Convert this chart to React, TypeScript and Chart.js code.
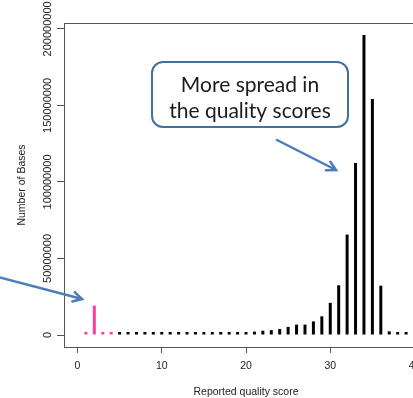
import { useEffect, useRef } from 'react';
import { Chart, registerables } from 'chart.js';

Chart.register(...registerables);

// ---- data ----
const QUALITY_SCORES = [
  1, 2, 3, 4, 5, 6, 7, 8, 9, 10,
  11, 12, 13, 14, 15, 16, 17, 18, 19, 20,
  21, 22, 23, 24, 25, 26, 27, 28, 29, 30,
  31, 32, 33, 34, 35, 36, 37, 38, 39, 40,
];
const BASE_COUNTS = [
  300000, 19200000, 300000, 300000, 400000, 400000, 500000, 500000, 600000, 600000,
  700000, 700000, 800000, 900000, 1000000, 1100000, 1200000, 1400000, 1600000, 1800000,
  2200000, 2800000, 3200000, 3900000, 5300000, 6800000, 6800000, 8900000, 12200000, 21000000,
  32500000, 65600000, 112400000, 196000000, 154200000, 32200000, 2400000, 800000, 600000, 500000,
];
const LOW_QUALITY_MAX = 4;
const X_TICKS = [0, 10, 20, 30, 40];
const Y_TICKS = [0, 50000000, 100000000, 150000000, 200000000];
const X_MIN = -1.6;
const X_MAX = 41.6;
const Y_MIN = -7840000;
const Y_MAX = 203840000;
const X_TITLE = 'Reported quality score';
const Y_TITLE = 'Number of Bases';
const CALLOUT_LINES = ['More spread in', 'the quality scores'];

const PINK = '#FF3D9E';
const BLACK = '#000000';
const AXIS_COLOR = '#555555';
const TEXT_COLOR = '#222222';
const FONT = '"Liberation Sans", Arial, sans-serif';

function arrow(ctx: CanvasRenderingContext2D, x1: number, y1: number, x2: number, y2: number) {
  const ang = Math.atan2(y2 - y1, x2 - x1);
  const head = 10;
  const spread = 0.5;
  ctx.beginPath();
  ctx.moveTo(x1, y1);
  ctx.lineTo(x2, y2);
  ctx.stroke();
  ctx.beginPath();
  ctx.moveTo(x2 - head * Math.cos(ang - spread), y2 - head * Math.sin(ang - spread));
  ctx.lineTo(x2, y2);
  ctx.lineTo(x2 - head * Math.cos(ang + spread), y2 - head * Math.sin(ang + spread));
  ctx.stroke();
}

const decorPlugin = {
  id: 'decor',
  afterDraw(chart: any) {
    const { ctx, chartArea } = chart;
    const yScale = chart.scales.y;
    ctx.save();
    // plot box
    ctx.strokeStyle = AXIS_COLOR;
    ctx.lineWidth = 1;
    ctx.strokeRect(
      Math.round(chartArea.left) + 0.5,
      Math.round(chartArea.top) + 0.5,
      Math.round(chartArea.right - chartArea.left),
      Math.round(chartArea.bottom - chartArea.top)
    );
    // rotated y tick labels (R style)
    ctx.fillStyle = TEXT_COLOR;
    ctx.font = `11px ${FONT}`;
    ctx.textAlign = 'center';
    ctx.textBaseline = 'middle';
    for (const v of Y_TICKS) {
      const y = yScale.getPixelForValue(v);
      ctx.save();
      ctx.translate(48, y);
      ctx.rotate(-Math.PI / 2);
      ctx.fillText(String(v), 0, 0);
      ctx.restore();
    }
    // callout box
    const bx = 152, by = 62, bw = 196, bh = 65, r = 11;
    ctx.beginPath();
    ctx.moveTo(bx + r, by);
    ctx.arcTo(bx + bw, by, bx + bw, by + bh, r);
    ctx.arcTo(bx + bw, by + bh, bx, by + bh, r);
    ctx.arcTo(bx, by + bh, bx, by, r);
    ctx.arcTo(bx, by, bx + bw, by, r);
    ctx.closePath();
    ctx.fillStyle = '#ffffff';
    ctx.fill();
    ctx.strokeStyle = '#41719C';
    ctx.lineWidth = 2;
    ctx.stroke();
    ctx.fillStyle = '#1c1c1c';
    ctx.font = '21px Lato, "Open Sans", sans-serif';
    ctx.textAlign = 'center';
    ctx.textBaseline = 'alphabetic';
    ctx.fillText(CALLOUT_LINES[0], bx + bw / 2, 92);
    ctx.fillText(CALLOUT_LINES[1], bx + bw / 2, 118);
    // arrows
    ctx.strokeStyle = '#4A7EBB';
    ctx.lineWidth = 2.5;
    ctx.lineCap = 'round';
    ctx.lineJoin = 'miter';
    arrow(ctx, 277, 140, 336, 170);
    arrow(ctx, -2, 277, 82, 299);
    ctx.restore();
  },
};

export default function App() {
  const ref = useRef<HTMLCanvasElement | null>(null);
  useEffect(() => {
    if (!ref.current) return;
    const chart = new Chart(ref.current, {
      type: 'bar',
      data: {
        datasets: [
          {
            data: QUALITY_SCORES.map((x, i) => ({ x, y: BASE_COUNTS[i] })),
            backgroundColor: QUALITY_SCORES.map((x) => (x <= LOW_QUALITY_MAX ? PINK : BLACK)),
            borderWidth: 0,
            barThickness: 3,
            minBarLength: 3,
            inflateAmount: 0,
          },
        ],
      },
      options: {
        responsive: false,
        animation: false,
        layout: { padding: { left: 0, right: 12, top: 23, bottom: 0 } },
        plugins: { legend: { display: false }, tooltip: { enabled: false } },
        scales: {
          x: {
            type: 'linear',
            min: X_MIN,
            max: X_MAX,
            offset: false,
            afterBuildTicks: (s: any) => {
              s.ticks = X_TICKS.map((v) => ({ value: v }));
            },
            afterFit: (s: any) => {
              s.height = 51;
            },
            grid: {
              offset: false,
              drawOnChartArea: false,
              drawTicks: true,
              tickLength: 6,
              color: AXIS_COLOR,
            },
            border: { display: true, color: AXIS_COLOR },
            ticks: {
              color: TEXT_COLOR,
              font: { family: FONT, size: 10.5 },
              padding: 7,
              maxRotation: 0,
              autoSkip: false,
            },
            title: {
              display: true,
              text: X_TITLE,
              color: TEXT_COLOR,
              font: { family: FONT, size: 10.5 },
              padding: { top: 0, bottom: 0 },
            },
          },
          y: {
            type: 'linear',
            min: Y_MIN,
            max: Y_MAX,
            afterBuildTicks: (s: any) => {
              s.ticks = Y_TICKS.map((v) => ({ value: v }));
            },
            afterFit: (s: any) => {
              s.width = 64;
            },
            grid: { drawOnChartArea: false, drawTicks: true, tickLength: 7, color: AXIS_COLOR },
            border: { display: true, color: AXIS_COLOR },
            ticks: { display: false },
            title: {
              display: true,
              text: Y_TITLE,
              color: TEXT_COLOR,
              font: { family: FONT, size: 10.5 },
              padding: { top: 16, bottom: 0 },
            },
          },
        },
      } as any,
      plugins: [decorPlugin],
    });
    return () => chart.destroy();
  }, []);
  return (
    <div
      style={{
        position: 'fixed',
        left: 0,
        top: 0,
        width: 413,
        height: 398,
        overflow: 'hidden',
        background: '#ffffff',
      }}
    >
      <canvas ref={ref} width={440} height={398} style={{ display: 'block' }} />
    </div>
  );
}
